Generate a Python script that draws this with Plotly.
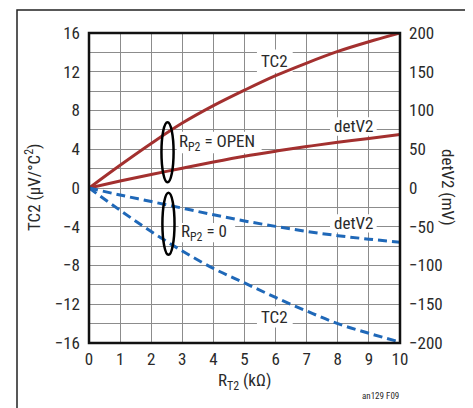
import plotly.graph_objects as go

# Data
rt2_kohm = [0, 1, 2, 3, 4, 5, 6, 7, 8, 9, 10]
tc2_open = [0, 2.35, 4.6, 6.7, 8.5, 10.1, 11.6, 12.9, 14.1, 15.1, 16.0]
detv2_open = [0, 9, 17.5, 25.5, 33.5, 41, 47.5, 53.5, 59, 64, 69]
tc2_zero = [0, -2.3, -4.5, -6.5, -8.3, -9.8, -11.3, -12.7, -14.0, -15.0, -15.9]
detv2_zero = [0, -9, -17.5, -26, -34.5, -42.5, -49.5, -56, -61.5, -66, -70]

left_ticks = [-16, -12, -8, -4, 0, 4, 8, 12, 16]
right_ticks = [-200, -150, -100, -50, 0, 50, 100, 150, 200]
x_ticks = list(range(0, 11))

RED = "#a3302f"
BLUE = "#1f68b8"
FONT = "Liberation Sans Narrow, Arial Narrow, Roboto Condensed, Liberation Sans, sans-serif"
TXT = "#2a2a2a"
GRID = "#8c8c8c"
FS = 17

fig = go.Figure()
fig.add_trace(go.Scatter(x=rt2_kohm, y=tc2_open, mode="lines", line=dict(color=RED, width=3), line_shape="spline"))
fig.add_trace(go.Scatter(x=rt2_kohm, y=detv2_open, mode="lines", yaxis="y2", line=dict(color=RED, width=3), line_shape="spline"))
fig.add_trace(go.Scatter(x=rt2_kohm, y=tc2_zero, mode="lines", line=dict(color=BLUE, width=3, dash="9px,5px"), line_shape="spline"))
fig.add_trace(go.Scatter(x=rt2_kohm, y=detv2_zero, mode="lines", yaxis="y2", line=dict(color=BLUE, width=3, dash="9px,5px"), line_shape="spline"))

fig.update_layout(
    width=465, height=400,
    margin=dict(l=81, r=73, t=25, b=65),
    paper_bgcolor="white", plot_bgcolor="white",
    showlegend=False,
    font=dict(family=FONT, size=FS, color=TXT),
    xaxis=dict(range=[0, 10], tickvals=x_ticks, ticks="", showgrid=True, gridcolor=GRID, gridwidth=1,
               zeroline=False, showline=False, tickfont=dict(size=FS), ticklabelstandoff=4),
    yaxis=dict(range=[-16, 16], tickvals=left_ticks, ticks="", showgrid=True, gridcolor=GRID, gridwidth=1,
               zeroline=False, showline=False, tickfont=dict(size=FS), ticklabelstandoff=8,
               minor=dict(dtick=2, tick0=0, showgrid=True, gridcolor=GRID, gridwidth=1)),
    yaxis2=dict(range=[-200, 200], tickvals=right_ticks, overlaying="y", side="right", showgrid=False,
                zeroline=False, showline=False, ticks="", tickfont=dict(size=FS), ticklabelstandoff=8),
)

# plot border
fig.add_shape(type="rect", xref="x domain", yref="y domain", x0=0, x1=1, y0=0, y1=1,
              line=dict(color="#111", width=2.5), layer="above")
# outer frame
fig.add_shape(type="rect", xref="paper", yref="paper", x0=-0.2315, x1=1.222, y0=-0.4, y1=1.074,
              line=dict(color="#222", width=1.5))

# white label backgrounds (between grid and traces)
def box(x0, x1, y0, y1):
    fig.add_shape(type="rect", xref="x", yref="y", x0=x0, x1=x1, y0=y0, y1=y1,
                  fillcolor="white", line=dict(width=0), layer="between")

box(5.4, 6.55, 11.9, 14.3)
box(7.75, 9.25, 5.4, 7.3)
box(2.82, 5.55, 3.6, 5.8)
box(2.88, 4.7, -5.6, -3.6)
box(7.75, 9.25, -4.6, -2.7)
box(5.4, 6.55, -14.4, -12.2)

# ellipses
fig.add_shape(type="circle", xref="x", yref="y", x0=2.33, x1=2.72, y0=0.6, y1=6.8,
              line=dict(color="black", width=2.5), layer="above")
fig.add_shape(type="circle", xref="x", yref="y", x0=2.36, x1=2.75, y0=-6.9, y1=-0.5,
              line=dict(color="black", width=2.5), layer="above")

def lab(text, x, y, xanchor="center"):
    fig.add_annotation(x=x, y=y, xref="x", yref="y", text=text, showarrow=False, xanchor=xanchor,
                       font=dict(size=FS, color=TXT, family=FONT), borderpad=0)

lab("TC2", 5.97, 13.1)
lab("detV2", 8.52, 6.35)
lab("R<sub>P2</sub> = OPEN", 2.86, 4.7, xanchor="left")
lab("R<sub>P2</sub> = 0", 2.92, -4.6, xanchor="left")
lab("detV2", 8.52, -3.6)
lab("TC2", 5.97, -13.35)

# axis titles
fig.add_annotation(xref="paper", yref="paper", x=-0.18, y=0.5, xanchor="center", yanchor="middle",
                   text="TC2 (μV/°C<sup>2</sup>)", textangle=-90,
                   showarrow=False, font=dict(size=FS, color=TXT, family=FONT))
fig.add_annotation(xref="paper", yref="paper", x=1.154, y=0.5, xanchor="center", yanchor="middle",
                   text="detV2 (mV)", textangle=90,
                   showarrow=False, font=dict(size=FS, color=TXT, family=FONT))
fig.add_annotation(xref="paper", yref="paper", x=0.5, y=-0.1226, xanchor="center", yanchor="middle",
                   text="R<sub>T2</sub> (kΩ)",
                   showarrow=False, font=dict(size=FS, color=TXT, family=FONT))
fig.add_annotation(xref="paper", yref="paper", x=0.936, y=-0.171, xanchor="center", yanchor="middle",
                   text="an129 F09",
                   showarrow=False, font=dict(size=9, color=TXT, family=FONT))

fig.write_html("out.html")
